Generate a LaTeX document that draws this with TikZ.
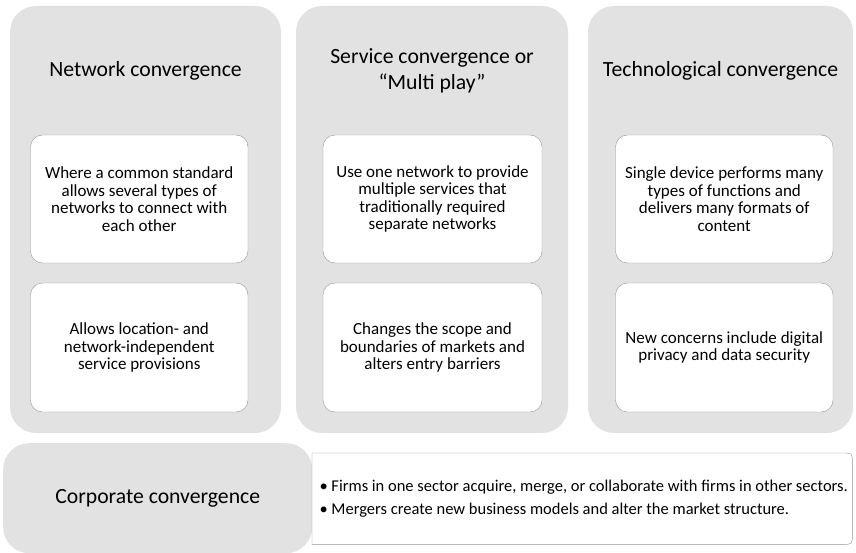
\documentclass[tikz,border=0pt]{standalone}
\usepackage{fontspec}
\setmainfont{Carlito}
\usetikzlibrary{positioning}

\definecolor{panelgray}{RGB}{226,226,226}
\definecolor{edgegray}{RGB}{150,150,150}

\begin{document}
\begin{tikzpicture}[x=1pt, y=-1pt]
      \useasboundingbox (0,0) rectangle (856,553);

      % Columns
      \foreach \n/\cx/\w in {1/145.5/271, 2/432/272, 3/720.5/265}
        \node[fill=panelgray, rounded corners=26pt, minimum width=\w pt, minimum height=427pt] (col-\n) at (\cx,219.5) {};

      % Column headings
      \foreach \n/\cx/\txt in {1/145.5/{Network convergence}, 2/432/{Service convergence or\\``Multi play''}, 3/720.5/{Technological convergence}}
        \node[font=\fontsize{21.7}{26}\selectfont, align=center] (head-\n) at (\cx,70.5) {\txt};

      % Upper cards
      \foreach \n/\cx/\w/\txt in {1/139.25/217.5/{Where a common standard\\allows several types of\\networks to connect with\\each other},
                                 2/432.5/219/{Use one network to provide\\multiple services that\\traditionally required\\separate networks},
                                 3/724.25/217.5/{Single device performs many\\types of functions and\\delivers many formats of\\content}}
        \node[draw=edgegray, fill=white, rounded corners=12pt, minimum width=\w pt, minimum height=128pt, align=center, font=\fontsize{17}{17.5}\selectfont] (top-\n) at (\cx,199) {\txt};

      % Lower cards
      \foreach \n/\cx/\w/\txt in {1/139.25/217.5/{Allows location- and\\network-independent\\service provisions},
                                 2/432.5/219/{Changes the scope and\\boundaries of markets and\\alters entry barriers},
                                 3/724.25/217.5/{New concerns include digital\\privacy and data security}}
        \node[draw=edgegray, fill=white, rounded corners=12pt, minimum width=\w pt, minimum height=129pt, align=center, font=\fontsize{17}{17.5}\selectfont] (low-\n) at (\cx,347.5) {\txt};

      % Corporate convergence row
      \node[fill=panelgray, rounded corners=26pt, minimum width=309pt, minimum height=110pt, anchor=north west] (corp) at (3,443) {};
      \node[font=\fontsize{21.7}{26}\selectfont] (corp-title) at (corp.center) {Corporate convergence};

      \node[minimum width=540pt, minimum height=91pt, anchor=north west] (facts) at (312,453) {};
      \draw[edgegray, fill=white] (facts.north west) -- ([xshift=-10pt]facts.north east)
        .. controls (facts.north east) .. ([yshift=-10pt]facts.north east)
        -- ([yshift=10pt]facts.south east)
        .. controls (facts.south east) .. ([xshift=-10pt]facts.south east)
        -- (facts.south west) -- cycle;
      \node[font=\fontsize{16.5}{22.5}\selectfont, align=left, anchor=west] (facts-text) at ([xshift=4pt]facts.west)
        {\textbullet\ Firms in one sector acquire, merge, or collaborate with firms in other sectors.\\
         \textbullet\ Mergers create new business models and alter the market structure.};

  \end{tikzpicture}
\end{document}
